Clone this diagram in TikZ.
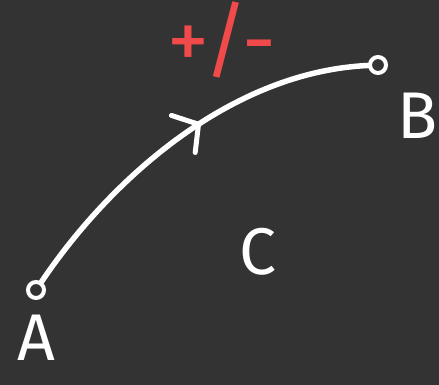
\documentclass[tikz,border=0pt]{standalone}
\usepackage{fontspec}
\setmainfont{Fira Sans}
\usepackage{tikz}
\usetikzlibrary{arrows.meta, decorations.markings, positioning}

\definecolor{board}{HTML}{333333}
\definecolor{chalkred}{HTML}{F04A4A}

\begin{document}
\begin{tikzpicture}[
    x=1pt, y=-1pt,
    endpt/.style={
        circle, draw=white, line width=4pt, fill=board,
        inner sep=0pt, minimum size=16pt
    },
    lbl/.style={
        text=white, font=\fontsize{66}{66}\selectfont, inner sep=0pt
    },
    curve/.style={
        white, line width=5.5pt, line cap=round,
        postaction={decorate},
        decoration={markings, mark=at position 0.56 with
            {\arrow[white, line width=5pt]{Straight Barb[length=18pt, width=44pt, line cap=round]}}}
    },
]

% background (fixes the picture size)
\fill[board] (0,0) rectangle (439,385);
\useasboundingbox (0,0) rectangle (439,385);

% end points
\node[endpt] (pa) at (36,290) {};
\node[endpt] (pb) at (378,65) {};

% labels
\node[lbl] (la) at (36,338) {A};
\node[lbl] (lb) at (418,116) {B};
\node[lbl] (lc) at (258,252) {C};
\node[lbl, text=chalkred, font=\fontsize{84}{84}\selectfont] (sign) at (222,40) {+/-};

% the curve from A to B
\draw[curve] (pa) .. controls (110,180) and (230,72) .. (pb);

\end{tikzpicture}
\end{document}
